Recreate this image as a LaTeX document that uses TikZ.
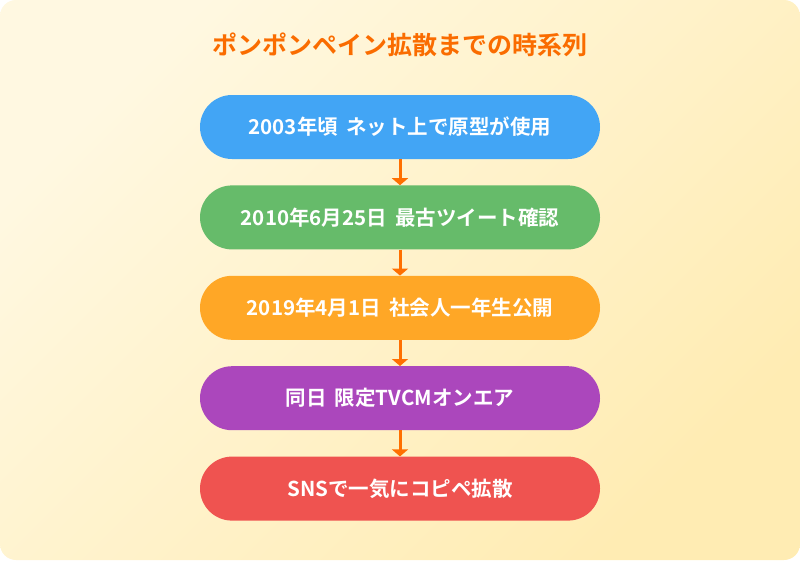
\documentclass[tikz,border=0pt]{standalone}
\usepackage{fontspec}
\setmainfont{Noto Sans CJK JP}[BoldFont={Noto Sans CJK JP Bold}]
\usetikzlibrary{positioning,arrows.meta}

\definecolor{bgtop}{HTML}{FFF8E1}
\definecolor{bgbottom}{HTML}{FFECB3}
\definecolor{titleorange}{HTML}{FA6C00}
\definecolor{arroworange}{HTML}{FF6F00}
\definecolor{stepblue}{HTML}{42A5F5}
\definecolor{stepgreen}{HTML}{66BB6A}
\definecolor{steporange}{HTML}{FFA726}
\definecolor{steppurple}{HTML}{AB47BC}
\definecolor{stepred}{HTML}{EF5350}

\newcommand{\gap}{\hspace{0.4em}}

\tikzset{
	stepbox/.style={rounded corners=32pt, minimum width=400pt, minimum height=64pt, inner sep=0pt,
		text=white, font=\fontsize{20.5pt}{24pt}\selectfont\bfseries},
	steparrow/.style={draw=arroworange, line width=3pt, -{Triangle[length=7pt, width=16pt]}}
}

\begin{document}
\begin{tikzpicture}[x=1pt, y=-1pt]
	\useasboundingbox (0, 0) rectangle (800, 560);
	\shade[rounded corners=16pt, top color=bgtop, bottom color=bgbottom, shading angle=45] (0, 0) rectangle (800, 560);

	\node[text=titleorange, font=\fontsize{25pt}{30pt}\selectfont\bfseries] (title) at (400, 45) {ポンポンペイン拡散までの時系列};

	\node[stepbox, fill=stepblue] (s1) at (400, 127) {2003年頃\gap ネット上で原型が使用};
	\node[stepbox, fill=stepgreen, below=26pt of s1] (s2) {2010年6月25日\gap 最古ツイート確認};
	\node[stepbox, fill=steporange, below=26pt of s2] (s3) {2019年4月1日\gap 社会人一年生公開};
	\node[stepbox, fill=steppurple, below=26pt of s3] (s4) {同日\gap 限定TVCMオンエア};
	\node[stepbox, fill=stepred, below=26pt of s4] (s5) {SNSで一気にコピペ拡散};

	\foreach \i/\j in {1/2, 2/3, 3/4, 4/5} \draw[steparrow] (s\i.south) -- (s\j.north);
\end{tikzpicture}
\end{document}
